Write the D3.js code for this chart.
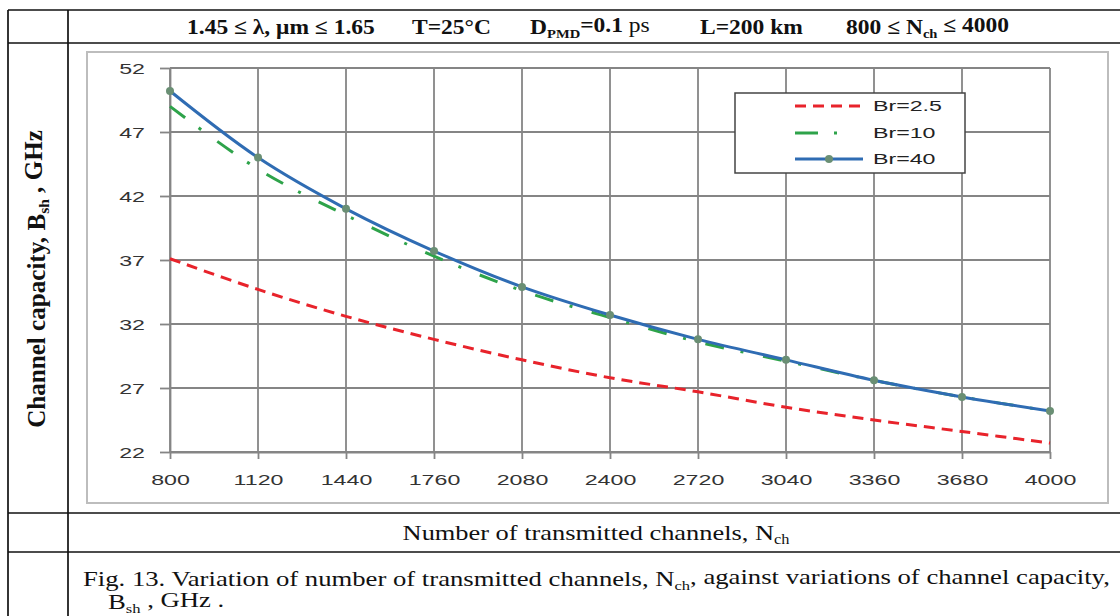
<!DOCTYPE html>
<html>
<head>
<meta charset="utf-8">
<script src="https://cdn.jsdelivr.net/npm/d3@7"></script>
<style>
  html, body { margin: 0; padding: 0; background: #fff; }
  svg { display: block; }
</style>
</head>
<body>
<svg id="fig" width="1120" height="616"></svg>
<script>
// Number of transmitted channels (x) and channel capacity, GHz, for each bit rate
const channels = [800, 1120, 1440, 1760, 2080, 2400, 2720, 3040, 3360, 3680, 4000];
const br25 = [37.1, 34.7, 32.6, 30.8, 29.2, 27.8, 26.7, 25.5, 24.5, 23.6, 22.7];
const br10 = [49.0, 44.1, 40.5, 37.3, 34.6, 32.5, 30.6, 29.1, 27.6, 26.3, 25.2];
const br40 = [50.2, 45.0, 41.0, 37.7, 34.9, 32.7, 30.8, 29.2, 27.6, 26.3, 25.2];
const yTicks = [22, 27, 32, 37, 42, 47, 52];
const seriesNames = ["Br=2.5", "Br=10", "Br=40"];

const svg = d3.select("#fig");
const SERIF = "'Liberation Serif', 'Times New Roman', serif";
const SANS = "'Liberation Sans', Arial, sans-serif";
const SANS_SX = 1.6;   // chart lettering is drawn wide
const SERIF_SX = 1.12;

svg.append("rect").attr("width", 1120).attr("height", 616).attr("fill", "#fff");

// ---- table frame around the figure ----
const frame = svg.append("g").attr("stroke", "#111").attr("stroke-width", 1.7);
[10, 43, 513, 552].forEach(yy =>
  frame.append("line").attr("x1", 8).attr("x2", 1120).attr("y1", yy).attr("y2", yy));
[8, 68].forEach(xx =>
  frame.append("line").attr("x1", xx).attr("x2", xx).attr("y1", 10).attr("y2", 616));

// ---- text helpers ----
function serifText(x, y, opts = {}) {
  return svg.append("text")
    .attr("transform", `translate(${x},${y}) scale(${opts.sx || SERIF_SX},1)`)
    .attr("font-family", SERIF)
    .attr("font-size", opts.size || 20)
    .attr("font-weight", opts.bold ? "bold" : "normal")
    .attr("fill", "#111");
}
function addParts(t, parts) {
  parts.forEach(p => {
    const s = t.append("tspan").text(p.t);
    if (p.sub) s.attr("font-size", "0.62em").attr("dy", "0.28em");
    if (p.after) s.attr("dy", "-0.28em");
    if (p.normal) s.attr("font-weight", "normal");
  });
  return t;
}

// ---- header row ----
const hy = 34;
addParts(serifText(187, hy, {bold: true, size: 21}), [{t: "1.45 ≤ λ, μm ≤ 1.65"}]);
addParts(serifText(412, hy, {bold: true, size: 21}), [{t: "T=25°C"}]);
addParts(serifText(530, hy, {bold: true, size: 21}), [{t: "D"}, {t: "PMD", sub: true}, {t: "=0.1 ", after: true}, {t: "ps", normal: true}]);
addParts(serifText(700, hy, {bold: true, size: 21}), [{t: "L=200 km"}]);
addParts(serifText(846, hy, {bold: true, size: 21}), [{t: "800 ≤ N"}, {t: "ch", sub: true}, {t: " ≤ 4000", after: true}]);

// ---- y-axis title (left column), fitted to the plot height ----
const yTitle = svg.append("text")
  .attr("text-anchor", "middle")
  .attr("font-family", SERIF).attr("font-size", 22).attr("font-weight", "bold")
  .attr("fill", "#111");
addParts(yTitle, [{t: "Channel capacity, B"}, {t: "sh", sub: true}, {t: " , GHz", after: true}]);
const yLen = yTitle.node().getBBox().width;
yTitle.attr("transform", `translate(45,279) rotate(-90) scale(${298 / yLen},1.1)`);

// ---- x-axis title row ----
const xTitle = serifText(596, 540, {size: 22, sx: 1.2});
xTitle.attr("text-anchor", "middle");
addParts(xTitle, [{t: "Number of transmitted channels, N"}, {t: "ch", sub: true}]);

// ---- caption ----
const cap1 = serifText(83, 586, {size: 21});
addParts(cap1, [{t: "Fig. 13. Variation of number of transmitted channels, N"}, {t: "ch", sub: true},
                {t: ", against variations of channel capacity,", after: true}]);
const capW = cap1.node().getBBox().width;
const capSx = (1110 - 83) / capW;
cap1.attr("transform", `translate(83,586) scale(${capSx},1)`);
const cap2 = serifText(108, 609, {size: 21, sx: capSx});
addParts(cap2, [{t: "B"}, {t: "sh", sub: true}, {t: " , GHz .", after: true}]);

// ---- chart area ----
svg.append("rect")
  .attr("x", 87).attr("y", 52).attr("width", 1021).attr("height", 451)
  .attr("fill", "#fff").attr("stroke", "#bdbdbd").attr("stroke-width", 2);

const x = d3.scaleLinear().domain([800, 4000]).range([170, 1050]);
const y = d3.scaleLinear().domain([22, 52]).range([452, 68]);

const grid = svg.append("g").attr("stroke", "#858585").attr("stroke-width", 1.8);
grid.selectAll("line.v").data(channels).join("line").attr("class", "v")
  .attr("x1", d => x(d)).attr("x2", d => x(d)).attr("y1", y(52)).attr("y2", y(22));
grid.selectAll("line.h").data(yTicks).join("line").attr("class", "h")
  .attr("x1", x(800)).attr("x2", x(4000)).attr("y1", d => y(d)).attr("y2", d => y(d));

const gx = svg.append("g").attr("transform", `translate(0,${y(22)})`)
  .call(d3.axisBottom(x).tickValues(channels).tickFormat(d3.format("d")).tickSize(7).tickSizeOuter(0));
const gy = svg.append("g").attr("transform", `translate(${x(800)},0)`)
  .call(d3.axisLeft(y).tickValues(yTicks).tickSize(10).tickSizeOuter(0));

[gx, gy].forEach(g => {
  g.select(".domain").attr("stroke", "#858585").attr("stroke-width", 1.8);
  g.selectAll(".tick line").attr("stroke", "#858585").attr("stroke-width", 1.8);
  g.selectAll(".tick text")
    .attr("font-family", SANS).attr("font-size", 14.5).attr("fill", "#333");
});
gx.selectAll(".tick text").attr("y", 33).attr("dy", 0).attr("transform", `scale(${SANS_SX},1)`);
gy.selectAll(".tick text").attr("x", -25 / SANS_SX).attr("dy", "0.35em").attr("transform", `scale(${SANS_SX},1)`);

// ---- series ----
const line = d3.line().x((d, i) => x(channels[i])).y(d => y(d)).curve(d3.curveCatmullRom.alpha(0.5));
const styles = [
  {color: "#e8232b", dash: "11,7", width: 3},
  {color: "#2ea34a", dash: "19,17,3,20", width: 3},
  {color: "#2f6cb3", dash: null, width: 3}
];
const seriesData = [br25, br10, br40];

seriesData.forEach((vals, k) => {
  svg.append("path").datum(vals)
    .attr("d", line)
    .attr("fill", "none")
    .attr("stroke", styles[k].color)
    .attr("stroke-width", styles[k].width)
    .attr("stroke-dasharray", styles[k].dash)
    .attr("stroke-linejoin", "round");
});
svg.append("g").selectAll("circle").data(br40).join("circle")
  .attr("cx", (d, i) => x(channels[i])).attr("cy", d => y(d)).attr("r", 4)
  .attr("fill", "#6a8f74");

// ---- legend ----
const lg = svg.append("g");
lg.append("rect").attr("x", 735).attr("y", 93).attr("width", 230).attr("height", 80)
  .attr("fill", "#fff").attr("stroke", "#444").attr("stroke-width", 1.5);
const legY = [106, 133, 159];
seriesNames.forEach((name, k) => {
  lg.append("line").attr("x1", 795).attr("x2", 863).attr("y1", legY[k]).attr("y2", legY[k])
    .attr("stroke", styles[k].color).attr("stroke-width", styles[k].width)
    .attr("stroke-dasharray", k === 1 ? "23,16,3,40" : styles[k].dash);
  if (k === 2) lg.append("circle").attr("cx", 829).attr("cy", legY[k]).attr("r", 4).attr("fill", "#6a8f74");
  lg.append("text")
    .attr("transform", `translate(873,${legY[k]}) scale(${SANS_SX},1)`)
    .attr("dy", "0.35em")
    .attr("font-family", SANS).attr("font-size", 14.5).attr("fill", "#222")
    .text(name);
});
</script>
</body>
</html>
